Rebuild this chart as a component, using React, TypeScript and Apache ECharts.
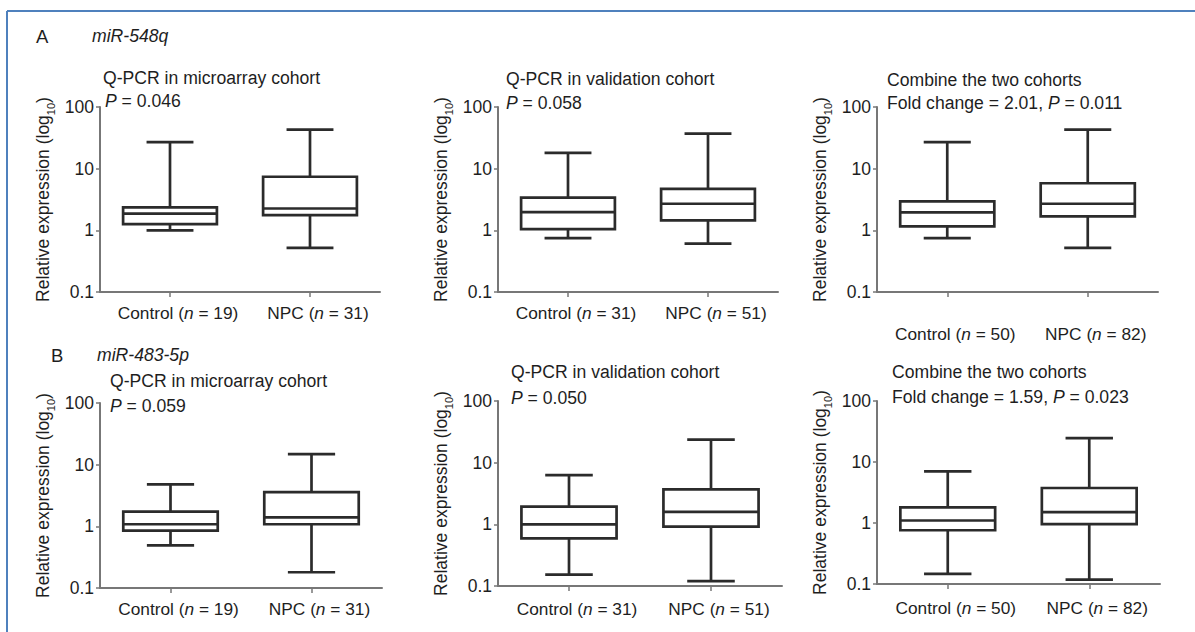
import React, { useEffect, useRef } from "react";
import * as echarts from "echarts";

const FONT = "'Liberation Sans', Arial, Helvetica, sans-serif";
const TEXT = "#1e1e1e";
const AXIS = "#777777";
const BOX = "#2b2b2b";

// ---- data ----
const groups = ["Control", "NPC"];
const nA1 = [19, 31];
const nA2 = [31, 51];
const nA3 = [50, 82];
const nB1 = [19, 31];
const nB2 = [31, 51];
const nB3 = [50, 82];

// [min, Q1, median, Q3, max]
const a1Control = [1.0, 1.26, 1.86, 2.35, 27];
const a1Npc = [0.52, 1.77, 2.26, 7.4, 43];
const a2Control = [0.75, 1.05, 1.97, 3.4, 18];
const a2Npc = [0.61, 1.45, 2.7, 4.7, 37];
const a3Control = [0.75, 1.16, 1.95, 2.95, 27];
const a3Npc = [0.52, 1.68, 2.7, 5.8, 43];

const b1Control = [0.49, 0.85, 1.08, 1.73, 4.8];
const b1Npc = [0.18, 1.08, 1.4, 3.6, 14.8];
const b2Control = [0.153, 0.59, 1.0, 1.94, 6.3];
const b2Npc = [0.12, 0.92, 1.59, 3.7, 23.6];
const b3Control = [0.146, 0.76, 1.1, 1.8, 7.0];
const b3Npc = [0.118, 0.96, 1.51, 3.75, 24.7];

const yTicks = [0.1, 1, 10, 100];

const titleMicro = "Q-PCR in microarray cohort";
const titleValid = "Q-PCR in validation cohort";
const titleCombine = "Combine the two cohorts";
const statA1 = "{i|P} = 0.046";
const statA2 = "{i|P} = 0.058";
const statA3 = "Fold change = 2.01, {i|P} = 0.011";
const statB1 = "{i|P} = 0.059";
const statB2 = "{i|P} = 0.050";
const statB3 = "Fold change = 1.59, {i|P} = 0.023";

// ---- layout ----
const panels = [
  { grid: { left: 100, top: 107, width: 280, height: 185 }, ns: nA1, ctrl: a1Control, npc: a1Npc, labelMargin: 12 },
  { grid: { left: 498, top: 107, width: 280, height: 185 }, ns: nA2, ctrl: a2Control, npc: a2Npc, labelMargin: 12 },
  { grid: { left: 877, top: 107, width: 281, height: 185 }, ns: nA3, ctrl: a3Control, npc: a3Npc, labelMargin: 33 },
  { grid: { left: 100, top: 403, width: 282, height: 185 }, ns: nB1, ctrl: b1Control, npc: b1Npc, labelMargin: 12 },
  { grid: { left: 498, top: 401, width: 284, height: 185 }, ns: nB2, ctrl: b2Control, npc: b2Npc, labelMargin: 14 },
  { grid: { left: 877, top: 401, width: 283, height: 183 }, ns: nB3, ctrl: b3Control, npc: b3Npc, labelMargin: 15 },
];

const TS = 17.6;
const textItems = [
  { x: 36, y: 36, text: "A", size: 18.5, italic: false },
  { x: 92, y: 36, text: "miR-548q", size: TS, italic: true },
  { x: 103, y: 78, text: titleMicro, size: TS, italic: false },
  { x: 105, y: 101, text: statA1, size: TS, italic: false },
  { x: 506, y: 79, text: titleValid, size: TS, italic: false },
  { x: 506, y: 103, text: statA2, size: TS, italic: false },
  { x: 887, y: 80, text: titleCombine, size: TS, italic: false },
  { x: 887, y: 103, text: statA3, size: TS, italic: false },
  { x: 51, y: 355, text: "B", size: 18.5, italic: false },
  { x: 97, y: 355, text: "miR-483-5p", size: TS, italic: true },
  { x: 110, y: 381, text: titleMicro, size: TS, italic: false },
  { x: 110, y: 406, text: statB1, size: TS, italic: false },
  { x: 511, y: 372, text: titleValid, size: TS, italic: false },
  { x: 511, y: 398, text: statB2, size: TS, italic: false },
  { x: 892, y: 372, text: titleCombine, size: TS, italic: false },
  { x: 892, y: 397, text: statB3, size: TS, italic: false },
];

const renderBox = (params: any, api: any) => {
  const xi = api.value(0);
  const vals = [1, 2, 3, 4, 5].map((d) => api.value(d));
  const pts = vals.map((v) => api.coord([xi, v]));
  const cx = pts[0][0];
  const band = api.coord([1, 1])[0] - api.coord([0, 1])[0];
  const bw = band * 0.67;
  const cw = bw / 2;
  const [yMin, yQ1, yMed, yQ3, yMax] = pts.map((p: number[]) => p[1]);
  const st = { stroke: BOX, lineWidth: 2.7, fill: null };
  return {
    type: "group",
    children: [
      { type: "line", shape: { x1: cx, y1: yMax, x2: cx, y2: yQ3 }, style: st },
      { type: "line", shape: { x1: cx, y1: yQ1, x2: cx, y2: yMin }, style: st },
      { type: "line", shape: { x1: cx - cw / 2, y1: yMax, x2: cx + cw / 2, y2: yMax }, style: st },
      { type: "line", shape: { x1: cx - cw / 2, y1: yMin, x2: cx + cw / 2, y2: yMin }, style: st },
      { type: "rect", shape: { x: cx - bw / 2, y: yQ3, width: bw, height: yQ1 - yQ3 }, style: { stroke: BOX, lineWidth: 2.7, fill: "#ffffff" } },
      { type: "line", shape: { x1: cx - bw / 2, y1: yMed, x2: cx + bw / 2, y2: yMed }, style: st },
    ],
  };
};

const fmtTick = (v: number) => {
  let best = yTicks[0];
  yTicks.forEach((t) => {
    if (Math.abs(Math.log10(t) - Math.log10(v)) < Math.abs(Math.log10(best) - Math.log10(v))) best = t;
  });
  return String(best);
};

export default function App() {
  const ref = useRef<HTMLDivElement>(null);
  useEffect(() => {
    if (!ref.current) return;
    const chart = echarts.init(ref.current, null, { renderer: "svg" });
    const italicRich = (size: number) => ({
      i: { fontStyle: "italic", fontSize: size, fontFamily: FONT, color: TEXT, fill: TEXT },
    });
    const option: any = {
      animation: false,
      backgroundColor: "#ffffff",
      grid: panels.map((p) => ({ ...p.grid, containLabel: false })),
      xAxis: panels.map((p, i) => ({
        type: "category",
        gridIndex: i,
        data: groups,
        axisLine: { show: true, lineStyle: { color: AXIS, width: 2 } },
        axisTick: { show: true, interval: 0, alignWithLabel: true, length: 5, lineStyle: { color: AXIS, width: 1.5 } },
        axisLabel: {
          interval: 0,
          hideOverlap: false,
          margin: p.labelMargin,
          padding: [0, 0, 0, 16],
          fontSize: 17.3,
          fontFamily: FONT,
          color: TEXT,
          formatter: (v: string, idx: number) => `${v} ({i|n} = ${p.ns[idx]})`,
          rich: { i: { fontStyle: "italic", fontSize: 17.3, fontFamily: FONT, color: TEXT } },
        },
        splitLine: { show: false },
      })),
      yAxis: panels.map((p, i) => ({
        type: "log",
        logBase: 10,
        gridIndex: i,
        min: 0.1,
        max: 100,
        name: "Relative expression (log{sub|10})",
        nameLocation: "middle",
        nameGap: 44,
        nameRotate: 90,
        nameTextStyle: {
          fontSize: 17.5,
          fontFamily: FONT,
          color: TEXT,
          rich: {
            sub: { fontSize: 11, fontFamily: FONT, color: TEXT, verticalAlign: "bottom", lineHeight: 26 },
          },
        },
        axisLine: { show: true, lineStyle: { color: AXIS, width: 2 } },
        axisTick: { show: true, length: 4, lineStyle: { color: AXIS, width: 1.5 } },
        axisLabel: { margin: 6, fontSize: 17.5, fontFamily: FONT, color: TEXT, formatter: fmtTick },
        splitLine: { show: false },
      })),
      series: panels.map((p, i) => ({
        type: "custom",
        xAxisIndex: i,
        yAxisIndex: i,
        silent: true,
        clip: false,
        encode: { x: 0, y: [1, 2, 3, 4, 5] },
        data: [
          [0, ...p.ctrl],
          [1, ...p.npc],
        ],
        renderItem: renderBox,
      })),
      graphic: [
        { type: "line", shape: { x1: 7, y1: 11, x2: 1195, y2: 11 }, style: { stroke: "#4f81bd", lineWidth: 2 } },
        { type: "line", shape: { x1: 7, y1: 11, x2: 7, y2: 632 }, style: { stroke: "#4f81bd", lineWidth: 2 } },
        ...textItems.map((t) => ({
          type: "text",
          x: t.x,
          y: t.y,
          style: {
            text: t.text,
            fontSize: t.size,
            fontFamily: FONT,
            fontStyle: t.italic ? "italic" : "normal",
            fill: TEXT,
            align: "left",
            verticalAlign: "middle",
            rich: italicRich(t.size),
          },
        })),
      ],
    };
    chart.setOption(option);
    return () => chart.dispose();
  }, []);
  return (
    <div
      ref={ref}
      style={{ position: "fixed", left: 0, top: 0, width: 1195, height: 632, background: "#ffffff" }}
    />
  );
}
